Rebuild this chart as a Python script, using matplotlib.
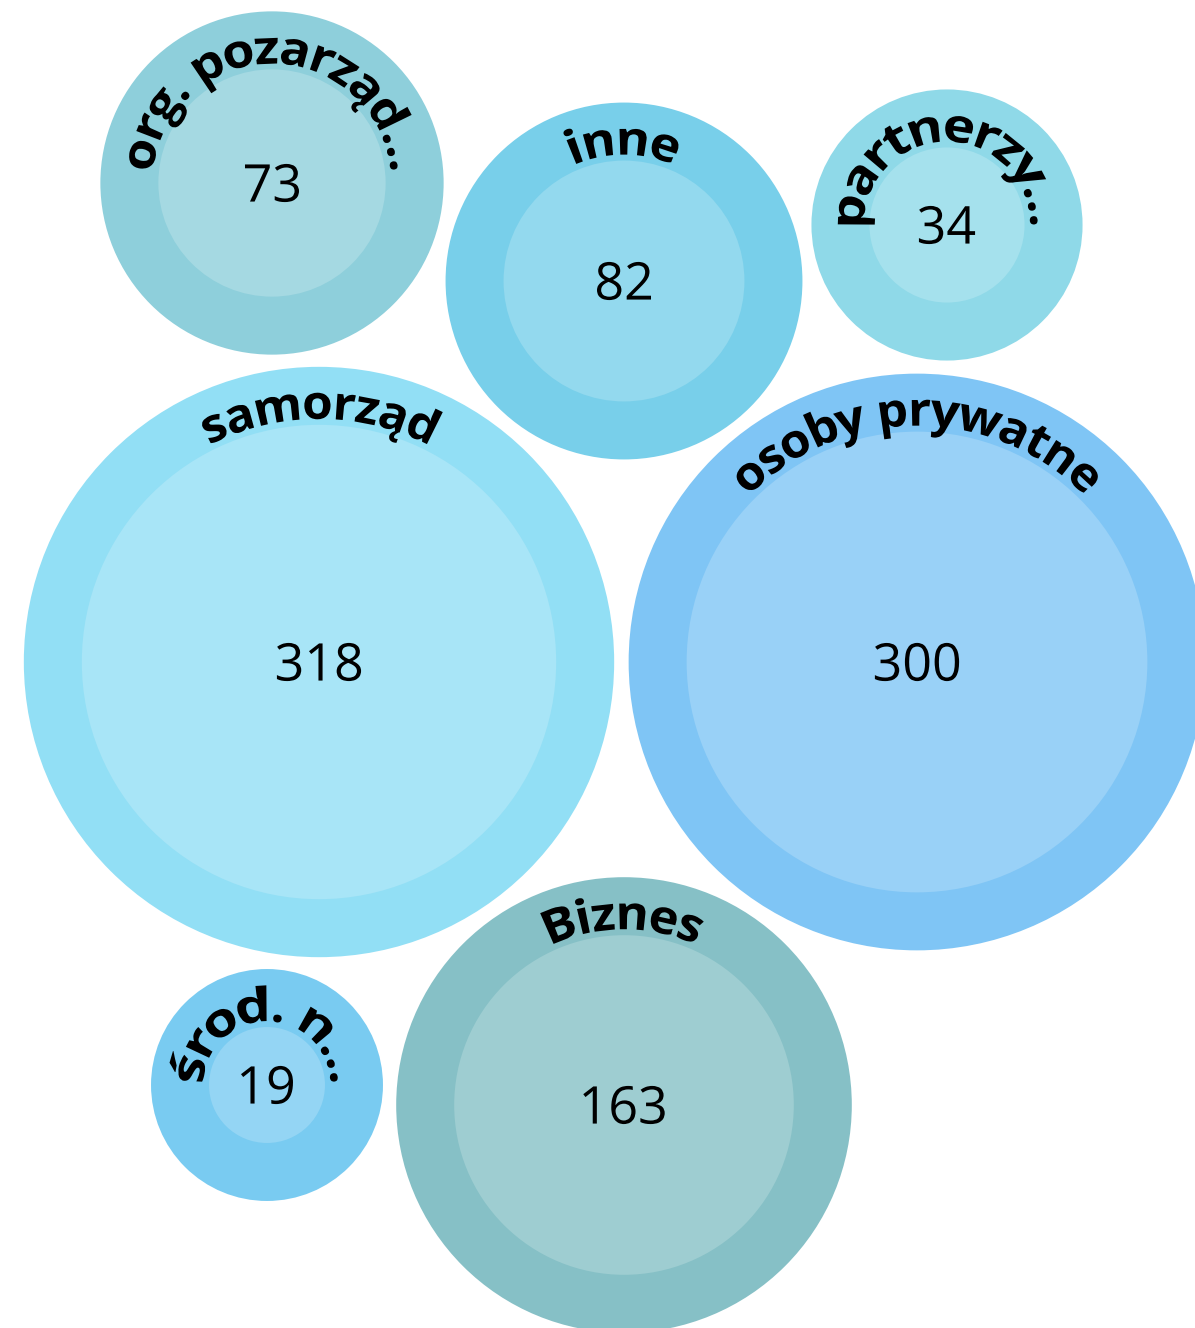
import numpy as np
import matplotlib
matplotlib.use("Agg")
import matplotlib.pyplot as plt
from matplotlib.textpath import TextPath
from matplotlib.font_manager import FontProperties
from matplotlib.patches import Circle, PathPatch
from matplotlib.path import Path
from matplotlib.colors import to_rgb

# ---- data ----
labels = ["org. pozarząd...", "inne", "partnerzy...", "samorząd",
          "osoby prywatne", "środ. n...", "Biznes"]
values = [73, 82, 34, 318, 300, 19, 163]

# ---- styles / layout ----
colors = ["#8ECFDB", "#78CFEA", "#8FD9E8", "#92DFF5",
          "#7FC5F5", "#79CBF1", "#86C0C6"]
# bubble-pack layout centres (pixels)
centers = [(272, 183), (624, 281), (947, 225), (319, 662),
           (917, 662), (267, 1085), (624, 1105)]
SCALE = 13.3      # px per sqrt(value) for inner disc
RING = 58         # ring thickness in px
LABEL_PX = 47
NUM_PX = 52

W, H = 1195, 1328
fig = plt.figure(figsize=(W / 100, H / 100), dpi=100)
ax = fig.add_axes([0, 0, 1, 1])
ax.set_xlim(0, W)
ax.set_ylim(H, 0)
ax.axis("off")

bold = FontProperties(family="Open Sans", weight="bold")
regular = FontProperties(family="Open Sans", weight="normal")


def lighten(c, a=0.2):
    r = np.array(to_rgb(c))
    return tuple(r + (1 - r) * a)


def arc_text(s, cx, cy, r, size, prop):
    tp = TextPath((0, 0), s, size=size, prop=prop)
    v = tp.vertices.copy()
    ext = tp.get_extents()
    xc = (ext.x0 + ext.x1) / 2
    x = v[:, 0] - xc
    y = v[:, 1]
    rr = r + y
    phi = x / r
    nx = cx + rr * np.sin(phi)
    ny = cy - rr * np.cos(phi)
    ax.add_patch(PathPatch(Path(np.column_stack([nx, ny]), tp.codes),
                           fc="black", ec="none", lw=0, zorder=5))


def center_text(s, cx, cy, size, prop):
    tp = TextPath((0, 0), s, size=size, prop=prop)
    v = tp.vertices.copy()
    ext = tp.get_extents()
    xc = (ext.x0 + ext.x1) / 2
    yc = (ext.y0 + ext.y1) / 2
    nx = cx + (v[:, 0] - xc)
    ny = cy - (v[:, 1] - yc)
    ax.add_patch(PathPatch(Path(np.column_stack([nx, ny]), tp.codes),
                           fc="black", ec="none", lw=0, zorder=5))


for lab, val, col, (cx, cy) in zip(labels, values, colors, centers):
    r_in = SCALE * np.sqrt(val)
    r_out = r_in + RING
    ax.add_patch(Circle((cx, cy), r_out, fc=col, ec="none", zorder=1))
    ax.add_patch(Circle((cx, cy), r_in, fc=lighten(col), ec="none", zorder=2))
    arc_text(lab, cx, cy, r_out - 52, LABEL_PX, bold)
    center_text(str(val), cx, cy, NUM_PX, regular)

fig.savefig("out.png", dpi=100)
